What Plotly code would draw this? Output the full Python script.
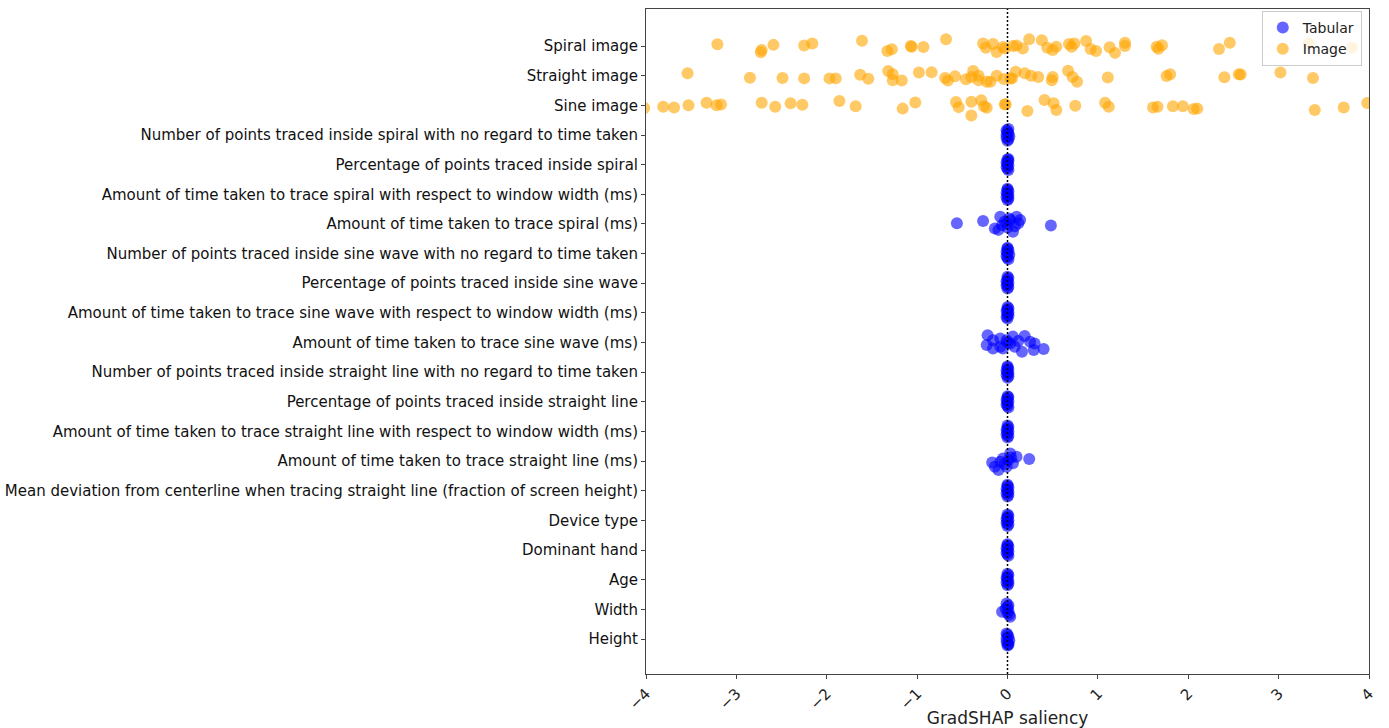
import plotly.graph_objects as go

# Feature labels, top to bottom as displayed
features = [
    "Spiral image",
    "Straight image",
    "Sine image",
    "Number of points traced inside spiral with no regard to time taken",
    "Percentage of points traced inside spiral",
    "Amount of time taken to trace spiral with respect to window width (ms)",
    "Amount of time taken to trace spiral (ms)",
    "Number of points traced inside sine wave with no regard to time taken",
    "Percentage of points traced inside sine wave",
    "Amount of time taken to trace sine wave with respect to window width (ms)",
    "Amount of time taken to trace sine wave (ms)",
    "Number of points traced inside straight line with no regard to time taken",
    "Percentage of points traced inside straight line",
    "Amount of time taken to trace straight line with respect to window width (ms)",
    "Amount of time taken to trace straight line (ms)",
    "Mean deviation from centerline when tracing straight line (fraction of screen height)",
    "Device type",
    "Dominant hand",
    "Age",
    "Width",
    "Height",
]

x_tick_vals = [-4, -3, -2, -1, 0, 1, 2, 3, 4]
x_tick_text = ["\u22124", "\u22123", "\u22122", "\u22121", "0", "1", "2", "3", "4"]

# ---- Image saliency (x) and strip jitter (dy, in category units) ----
spiral_img_x = [-3.21, -2.73, -2.72, -2.59, -2.25, -2.16, -1.61, -1.33, -1.28, -1.07, -1.06, -0.93, -0.68,
                -0.27, -0.24, -0.16, -0.12, -0.03, -0.05, 0.06, 0.10, 0.17, 0.24, 0.38, 0.44, 0.50, 0.54,
                0.68, 0.71, 0.74, 0.87, 0.92, 0.98, 1.13, 1.19, 1.30, 1.30, 1.65, 1.67, 1.71, 2.34, 2.46,
                3.33, 3.81]
spiral_img_dy = [0.06, -0.21, -0.13, 0.04, 0.02, 0.09, 0.18, -0.17, -0.11, 0.00, -0.02, -0.03, 0.23,
                 0.09, -0.06, 0.07, -0.20, -0.08, -0.03, 0.00, 0.02, -0.08, 0.23, 0.20, -0.06, -0.13, -0.02,
                 0.07, -0.02, 0.09, 0.17, -0.10, -0.17, -0.04, -0.23, 0.11, 0.00, -0.02, -0.09, 0.03, -0.10,
                 0.11, 0.09, -0.06]

straight_img_x = [-3.54, -2.85, -2.49, -2.25, -1.97, -1.90, -1.63, -1.54, -1.32, -1.27, -1.27, -1.17, -0.98,
                  -0.84, -0.69, -0.66, -0.58, -0.46, -0.38, -0.40, -0.32, -0.32, -0.23, -0.19, -0.12, -0.04,
                  0.03, 0.05, 0.09, 0.19, 0.26, 0.34, 0.50, 0.49, 0.67, 0.72, 0.77, 1.11, 1.76, 1.80, 2.40,
                  2.56, 2.58, 3.02, 3.38]
straight_img_dy = [0.08, -0.07, -0.08, -0.09, -0.09, -0.09, 0.03, -0.10, 0.16, 0.05, -0.15, -0.16, 0.11,
                   0.12, -0.08, -0.16, -0.02, -0.12, 0.16, -0.04, 0.00, -0.15, -0.20, -0.20, 0.00, -0.11,
                   -0.09, -0.09, 0.13, 0.08, 0.00, -0.04, -0.04, -0.15, 0.17, -0.04, -0.20, -0.06, -0.01, 0.05,
                   -0.05, 0.05, 0.04, 0.11, -0.08]

sine_img_x = [-4.02, -3.81, -3.69, -3.53, -3.33, -3.22, -3.17, -2.72, -2.57, -2.40, -2.27, -1.86, -1.68,
              -1.16, -1.02, -0.57, -0.54, -0.40, -0.40, -0.29, -0.26, -0.23, -0.03, -0.02, 0.22, 0.41, 0.51,
              0.54, 0.75, 1.08, 1.12, 1.61, 1.66, 1.83, 1.94, 2.06, 2.10, 3.40, 3.72, 3.98]
sine_img_dy = [-0.09, -0.05, -0.07, 0.00, 0.09, 0.00, 0.03, 0.09, -0.05, 0.07, 0.02, 0.15, -0.03,
               -0.11, 0.10, 0.11, -0.06, 0.12, -0.34, 0.17, -0.03, -0.08, 0.04, 0.03, -0.19, 0.18, 0.07,
               -0.16, -0.01, 0.09, -0.05, -0.07, -0.05, -0.03, -0.03, -0.12, -0.11, -0.16, -0.07, 0.08]

# ---- Tabular saliency (x) and strip jitter (dy) per feature ----
spiral_n_x = [0.00, 0.01, -0.01, 0.02, -0.01, 0.01, 0.00, -0.01, 0.01]
spiral_n_dy = [-0.19, -0.14, -0.09, -0.04, 0.01, 0.06, 0.11, 0.16, 0.20]
spiral_pct_x = [0.01, 0.00, -0.01, 0.01, 0.00, -0.01, 0.01, 0.00, 0.01]
spiral_pct_dy = [-0.18, -0.13, -0.08, -0.03, 0.02, 0.07, 0.12, 0.17, 0.19]
spiral_win_x = [0.00, 0.01, -0.01, 0.01, 0.00, -0.01, 0.01, 0.00, 0.00]
spiral_win_dy = [-0.19, -0.15, -0.10, -0.05, 0.00, 0.05, 0.10, 0.15, 0.19]
spiral_ms_x = [-0.56, -0.27, 0.48, -0.08, 0.10, -0.14, 0.06, 0.12, -0.01, -0.06, 0.03, -0.10, 0.14,
               0.00, 0.02, -0.03, 0.08]
spiral_ms_dy = [0.02, 0.10, -0.05, 0.24, 0.24, -0.15, -0.26, 0.02, 0.02, -0.04, 0.13, -0.20, 0.13,
                -0.12, 0.18, 0.08, -0.08]
sine_n_x = [0.01, 0.00, -0.01, 0.02, 0.00, -0.01, 0.01, 0.00, 0.00]
sine_n_dy = [-0.19, -0.14, -0.09, -0.04, 0.01, 0.06, 0.11, 0.16, 0.20]
sine_pct_x = [0.00, 0.01, -0.01, 0.00, 0.01, -0.01, 0.00, 0.01, 0.00]
sine_pct_dy = [-0.18, -0.13, -0.08, -0.03, 0.02, 0.07, 0.12, 0.18, 0.22]
sine_win_x = [0.00, -0.01, 0.01, 0.00, 0.01, -0.01, 0.00, 0.01, 0.00]
sine_win_dy = [-0.19, -0.14, -0.09, -0.04, 0.01, 0.06, 0.11, 0.16, 0.20]
sine_ms_x = [-0.22, 0.40, 0.19, 0.29, 0.16, -0.23, -0.16, -0.08, -0.01, 0.06, 0.08, 0.25, -0.08, -0.05,
             0.03, 0.30, -0.16, 0.12, 0.00]
sine_ms_dy = [0.25, -0.22, 0.22, -0.25, -0.31, -0.08, 0.08, -0.14, 0.08, 0.20, -0.14, 0.03, 0.14, -0.20,
              -0.03, -0.03, -0.20, 0.05, 0.00]
straight_n_x = [0.00, 0.01, -0.01, 0.01, 0.00, -0.01, 0.01, 0.00, 0.00]
straight_n_dy = [-0.19, -0.14, -0.09, -0.04, 0.01, 0.06, 0.11, 0.16, 0.20]
straight_pct_x = [0.01, 0.00, -0.01, 0.00, 0.01, -0.01, 0.00, 0.01, 0.00]
straight_pct_dy = [-0.19, -0.14, -0.09, -0.04, 0.01, 0.06, 0.11, 0.16, 0.19]
straight_win_x = [0.00, 0.01, -0.01, 0.00, 0.01, -0.01, 0.00, 0.01, 0.00]
straight_win_dy = [-0.20, -0.15, -0.10, -0.05, 0.00, 0.05, 0.10, 0.15, 0.20]
straight_ms_x = [0.24, -0.17, -0.10, -0.05, 0.03, 0.06, 0.10, -0.01, -0.08, -0.14, 0.01, 0.04, -0.03]
straight_ms_dy = [0.07, -0.05, -0.30, 0.09, 0.26, -0.07, 0.15, -0.19, -0.02, -0.19, 0.04, 0.12, -0.10]
deviation_x = [0.00, 0.01, -0.01, 0.01, 0.00, -0.01, 0.01, 0.00, 0.00]
deviation_dy = [-0.19, -0.14, -0.09, -0.04, 0.01, 0.06, 0.11, 0.16, 0.20]
device_x = [0.00, 0.01, -0.01, 0.00, 0.01, -0.01, 0.00, 0.01, 0.00]
device_dy = [-0.19, -0.14, -0.09, -0.04, 0.01, 0.06, 0.11, 0.16, 0.20]
hand_x = [0.01, 0.00, -0.01, 0.01, 0.00, -0.01, 0.01, 0.00, 0.00]
hand_dy = [-0.19, -0.14, -0.09, -0.04, 0.01, 0.06, 0.11, 0.16, 0.20]
age_x = [0.00, 0.01, -0.01, 0.01, 0.00, -0.01, 0.00, 0.01, 0.00]
age_dy = [-0.19, -0.14, -0.09, -0.04, 0.01, 0.06, 0.11, 0.16, 0.20]
width_x = [-0.06, 0.03, -0.01, 0.01, 0.00, -0.02, 0.01, 0.00, 0.02]
width_dy = [-0.08, -0.25, 0.20, 0.14, 0.08, 0.02, -0.04, -0.12, -0.18]
height_x = [0.00, 0.01, -0.01, 0.02, -0.01, 0.01, 0.00, -0.01, 0.01]
height_dy = [-0.22, -0.16, -0.10, -0.04, 0.02, 0.08, 0.14, 0.19, -0.19]

image_data = {
    "Spiral image": (spiral_img_x, spiral_img_dy),
    "Straight image": (straight_img_x, straight_img_dy),
    "Sine image": (sine_img_x, sine_img_dy),
}
tabular_data = {
    features[3]: (spiral_n_x, spiral_n_dy),
    features[4]: (spiral_pct_x, spiral_pct_dy),
    features[5]: (spiral_win_x, spiral_win_dy),
    features[6]: (spiral_ms_x, spiral_ms_dy),
    features[7]: (sine_n_x, sine_n_dy),
    features[8]: (sine_pct_x, sine_pct_dy),
    features[9]: (sine_win_x, sine_win_dy),
    features[10]: (sine_ms_x, sine_ms_dy),
    features[11]: (straight_n_x, straight_n_dy),
    features[12]: (straight_pct_x, straight_pct_dy),
    features[13]: (straight_win_x, straight_win_dy),
    features[14]: (straight_ms_x, straight_ms_dy),
    features[15]: (deviation_x, deviation_dy),
    features[16]: (device_x, device_dy),
    features[17]: (hand_x, hand_dy),
    features[18]: (age_x, age_dy),
    features[19]: (width_x, width_dy),
    features[20]: (height_x, height_dy),
}

n = len(features)
ypos = {f: n - 1 - i for i, f in enumerate(features)}


def collect(data):
    xs, ys = [], []
    for name, (xv, dv) in data.items():
        for xi, di in zip(xv, dv):
            xs.append(xi)
            ys.append(ypos[name] + di)
    return xs, ys


tx, ty = collect(tabular_data)
ix, iy = collect(image_data)

FONT = "DejaVu Sans"

fig = go.Figure()
fig.add_trace(go.Scatter(
    x=tx, y=ty, mode="markers", name="Tabular",
    marker=dict(color="blue", size=12, opacity=0.6, line=dict(width=0)),
))
fig.add_trace(go.Scatter(
    x=ix, y=iy, mode="markers", name="Image",
    marker=dict(color="orange", size=12, opacity=0.6, line=dict(width=0)),
))

fig.add_shape(type="line", x0=0, x1=0, y0=0, y1=1, xref="x", yref="paper",
              line=dict(color="black", width=1.5, dash="2px,2px"), layer="above")

fig.update_layout(
    width=1389, height=728,
    margin=dict(l=646, r=20, t=9, b=54),
    paper_bgcolor="white", plot_bgcolor="white",
    font=dict(family=FONT, size=15, color="black"),
    showlegend=True,
    legend=dict(
        x=0.990, y=0.997, xanchor="right", yanchor="top",
        bgcolor="rgba(255,255,255,0.8)", bordercolor="#cccccc", borderwidth=1,
        font=dict(family=FONT, size=14, color="#222222"),
        tracegroupgap=0,
    ),
    xaxis=dict(
        range=[-4, 4], tickvals=x_tick_vals, ticktext=x_tick_text, tickangle=-45,
        ticks="outside", ticklen=4, tickcolor="#444444",
        showgrid=False, zeroline=False,
        showline=True, linecolor="#444444", linewidth=1, mirror=True,
        tickfont=dict(family=FONT, size=15, color="#222222"),
        title=dict(text="GradSHAP saliency", font=dict(family=FONT, size=17, color="#222222"), standoff=8),
        automargin=False,
    ),
    yaxis=dict(
        range=[-1.18, 21.25], tickvals=[ypos[f] for f in features], ticktext=features,
        ticks="outside", ticklen=4, tickcolor="#444444",
        showgrid=False, zeroline=False,
        showline=True, linecolor="#444444", linewidth=1, mirror=True,
        tickfont=dict(family=FONT, size=15, color="#111111"),
        automargin=False,
    ),
)

fig.write_html("out.html", config={"displayModeBar": False},
               post_script="document.body.style.margin='0';document.body.style.overflow='hidden';")
